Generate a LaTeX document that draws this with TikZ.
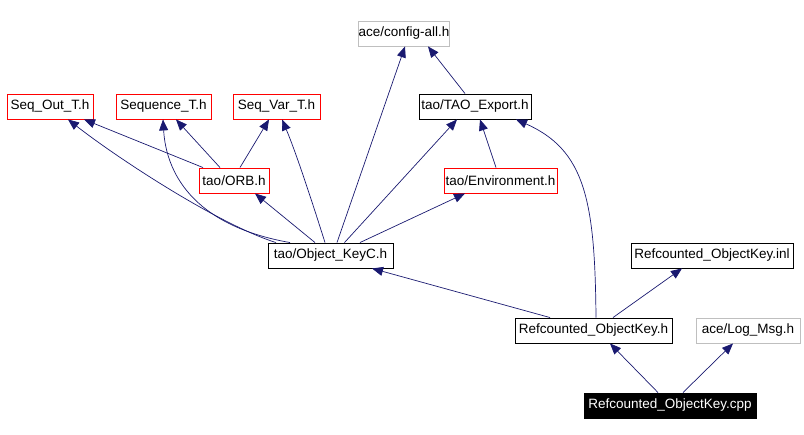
\documentclass[tikz,border=0pt]{standalone}
\usepackage{fontspec}
\setmainfont{Liberation Sans}
\usetikzlibrary{arrows.meta}
\definecolor{edgecol}{HTML}{191970}
\definecolor{graybox}{HTML}{BFBFBF}
\tikzset{
  box/.style={draw=black, line width=0.9pt, minimum height=25pt, inner sep=0pt, font=\fontsize{13.5}{16}\selectfont, text=black},
  redbox/.style={box, draw=red},
  greybox/.style={box, draw=graybox},
  mainbox/.style={box, fill=black, text=white},
  edge/.style={draw=edgecol, line width=0.7pt, -{Triangle[length=11pt,width=9pt]}, fill=none},
}
\begin{document}
\begin{tikzpicture}[x=1pt,y=-1pt]
\useasboundingbox (0,0) rectangle (804,435);
\node[greybox, minimum width=76pt] (cfg) at (404,33.5) {ace/config-all.h};
\node[redbox, minimum width=86pt] (sout) at (50,106.5) {Seq\_Out\_T.h};
\node[redbox, minimum width=95pt] (seqt) at (163.5,106.5) {Sequence\_T.h};
\node[redbox, minimum width=87pt] (svar) at (276.5,106.5) {Seq\_Var\_T.h};
\node[box, minimum width=112pt] (tao) at (475,106.5) {tao/TAO\_Export.h};
\node[redbox, minimum width=70pt] (orb) at (234,180.5) {tao/ORB.h};
\node[redbox, minimum width=113pt] (env) at (500.5,180.5) {tao/Environment.h};
\node[box, minimum width=125pt] (okc) at (330.5,255.5) {tao/Object\_KeyC.h};
\node[box, minimum width=162pt] (inl) at (712,255.5) {Refcounted\_ObjectKey.inl};
\node[box, minimum width=157pt] (rh) at (593.5,330.5) {Refcounted\_ObjectKey.h};
\node[greybox, minimum width=104pt] (log) at (748,330.5) {ace/Log\_Msg.h};
\node[mainbox, minimum width=172pt] (cpp) at (670,405.5) {Refcounted\_ObjectKey.cpp};

% cpp
\draw[edge] ([xshift=-12pt]cpp.north) -- ([xshift=16.5pt]rh.south);
\draw[edge] ([xshift=13pt]cpp.north) -- ([xshift=-15pt]log.south);
% Refcounted_ObjectKey.h
\draw[edge] ([xshift=19.5pt]rh.north) -- ([xshift=-30pt]inl.south);
\draw[edge] ([xshift=-43.5pt]rh.north) -- ([xshift=41.5pt]okc.south);
\draw[edge] ([xshift=2.5pt]rh.north) .. controls (595,200) and (585,150) .. ([xshift=41pt]tao.south);
% Object_KeyC.h
\draw[edge] ([xshift=-54.5pt]okc.north) .. controls (220,225) and (120,160) .. ([xshift=18pt]sout.south);
\draw[edge] ([xshift=-40.5pt]okc.north) .. controls (190,225) and (166,170) .. ([xshift=-0.5pt]seqt.south);
\draw[edge] ([xshift=-15.5pt]okc.north) -- ([xshift=21pt]orb.south);
\draw[edge] ([xshift=-5.5pt]okc.north) .. controls (310,195) and (295,150) .. ([xshift=5.5pt]svar.south);
\draw[edge] ([xshift=6.5pt]okc.north) -- ([xshift=1pt]cfg.south);
\draw[edge] ([xshift=14pt]okc.north) -- ([xshift=-18pt]tao.south);
\draw[edge] ([xshift=29.5pt]okc.north) -- ([xshift=-35.5pt]env.south);
% ORB.h
\draw[edge] ([xshift=-31pt]orb.north) -- ([xshift=34pt]sout.south);
\draw[edge] ([xshift=-14pt]orb.north) -- ([xshift=12.5pt]seqt.south);
\draw[edge] ([xshift=6pt]orb.north) -- ([xshift=-7.5pt]svar.south);
% TAO_Export.h
\draw[edge] ([xshift=-10pt]tao.north) -- ([xshift=24pt]cfg.south);
% Environment.h
\draw[edge] ([xshift=-4.5pt]env.north) -- ([xshift=5pt]tao.south);
\end{tikzpicture}
\end{document}
